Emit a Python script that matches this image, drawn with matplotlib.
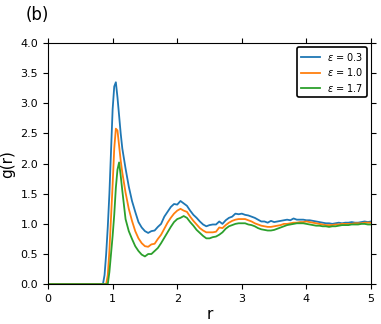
import matplotlib
matplotlib.use("Agg")
import matplotlib.pyplot as plt

r = [0.0, 0.80, 0.85, 0.875, 0.90, 0.925, 0.95, 0.975, 1.0, 1.025, 1.05, 1.075, 1.10, 1.125, 1.15,
     1.2, 1.25, 1.3, 1.35, 1.4, 1.45, 1.5, 1.55, 1.6, 1.65, 1.7, 1.75, 1.8, 1.85, 1.9, 1.95,
     2.0, 2.05, 2.1, 2.15, 2.2, 2.25, 2.3, 2.35, 2.4, 2.45, 2.5, 2.55, 2.6, 2.65, 2.7, 2.75,
     2.8, 2.85, 2.9, 2.95, 3.0, 3.05, 3.1, 3.15, 3.2, 3.25, 3.3, 3.35, 3.4, 3.45, 3.5, 3.55,
     3.6, 3.65, 3.7, 3.75, 3.8, 3.85, 3.9, 3.95, 4.0, 4.05, 4.1, 4.15, 4.2, 4.25, 4.3, 4.35,
     4.4, 4.45, 4.5, 4.55, 4.6, 4.65, 4.7, 4.75, 4.8, 4.85, 4.9, 4.95, 5.0]

g_03 = [0.0, 0.0, 0.0, 0.15, 0.5, 0.95, 1.5, 2.2, 2.9, 3.28, 3.35, 3.1, 2.8, 2.5, 2.25,
        1.92, 1.62, 1.38, 1.2, 1.03, 0.94, 0.88, 0.85, 0.88, 0.89, 0.95, 1.0, 1.12, 1.2, 1.28, 1.33,
        1.32, 1.38, 1.34, 1.30, 1.22, 1.15, 1.10, 1.04, 0.99, 0.96, 0.98, 0.99, 0.99, 1.04, 1.0, 1.06,
        1.10, 1.12, 1.17, 1.16, 1.17, 1.15, 1.14, 1.12, 1.10, 1.07, 1.04, 1.04, 1.02, 1.05, 1.03, 1.04,
        1.05, 1.06, 1.07, 1.06, 1.09, 1.07, 1.07, 1.07, 1.06, 1.06, 1.05, 1.04, 1.03, 1.02, 1.01, 1.01,
        1.00, 1.01, 1.02, 1.01, 1.02, 1.02, 1.03, 1.02, 1.02, 1.03, 1.04, 1.03, 1.04]

g_10 = [0.0, 0.0, 0.0, 0.0, 0.0, 0.15, 0.55, 1.1, 1.65, 2.25, 2.58, 2.55, 2.3, 2.05, 1.85,
        1.52, 1.25, 1.05, 0.88, 0.76, 0.68, 0.63, 0.62, 0.66, 0.67, 0.75, 0.82, 0.92, 1.02, 1.10, 1.17,
        1.22, 1.25, 1.22, 1.20, 1.12, 1.05, 0.99, 0.93, 0.89, 0.86, 0.86, 0.86, 0.87, 0.94, 0.93, 0.98,
        1.02, 1.05, 1.07, 1.08, 1.08, 1.08, 1.06, 1.04, 1.01, 0.99, 0.97, 0.96, 0.95, 0.95, 0.96, 0.97,
        0.98, 1.0, 1.0, 1.01, 1.02, 1.02, 1.03, 1.03, 1.04, 1.03, 1.02, 1.01, 1.0, 0.99, 0.98, 0.98,
        0.98, 0.99, 0.99, 1.0, 1.0, 1.0, 1.0, 1.01, 1.01, 1.01, 1.02, 1.02, 1.02]

g_17 = [0.0, 0.0, 0.0, 0.0, 0.0, 0.0, 0.2, 0.5, 0.8, 1.15, 1.6, 1.9, 2.02, 1.8, 1.55,
        1.08, 0.88, 0.75, 0.63, 0.55, 0.49, 0.46, 0.5, 0.5, 0.55, 0.6, 0.68, 0.77, 0.86, 0.95, 1.03,
        1.08, 1.10, 1.13, 1.10, 1.03, 0.97, 0.90, 0.85, 0.80, 0.76, 0.76, 0.78, 0.79, 0.82, 0.86, 0.92,
        0.96, 0.98, 1.0, 1.01, 1.01, 1.01, 0.99, 0.98, 0.96, 0.93, 0.91, 0.90, 0.89, 0.89, 0.90, 0.92,
        0.94, 0.96, 0.98, 0.99, 1.0, 1.01, 1.01, 1.01, 1.0, 0.99, 0.98, 0.97, 0.97, 0.96, 0.96, 0.95,
        0.96, 0.96, 0.97, 0.98, 0.98, 0.98, 0.99, 0.99, 0.99, 1.0, 1.0, 0.99, 0.99]

labels = [r"$\varepsilon$ = 0.3", r"$\varepsilon$ = 1.0", r"$\varepsilon$ = 1.7"]
colors = ["#1f77b4", "#ff7f0e", "#2ca02c"]

fig = plt.figure(figsize=(3.81, 3.24), dpi=100)
ax = fig.add_axes([0.126, 0.123, 0.848, 0.744])

for g, lab, c in zip([g_03, g_10, g_17], labels, colors):
    ax.plot(r, g, color=c, lw=1.3, label=lab)

ax.set_xlim(0, 5)
ax.set_ylim(0, 4.0)
ax.set_xticks([0, 1, 2, 3, 4, 5])
ax.set_yticks([0.0, 0.5, 1.0, 1.5, 2.0, 2.5, 3.0, 3.5, 4.0])
ax.tick_params(labelsize=8, top=True, right=True, direction="out", length=3.5)
ax.set_xlabel("r", fontsize=11, labelpad=2)
ax.set_ylabel("g(r)", fontsize=11, labelpad=4)

leg = ax.legend(loc="upper right", fontsize=7, frameon=True, fancybox=True,
                edgecolor="black", framealpha=1, borderpad=0.35, labelspacing=0.35,
                handlelength=2.0, handletextpad=0.7, borderaxespad=0.45)
leg.get_frame().set_linewidth(1.2)

fig.text(0.068, 0.955, "(b)", fontsize=12, ha="left", va="center")

fig.savefig("out.png", dpi=100)
